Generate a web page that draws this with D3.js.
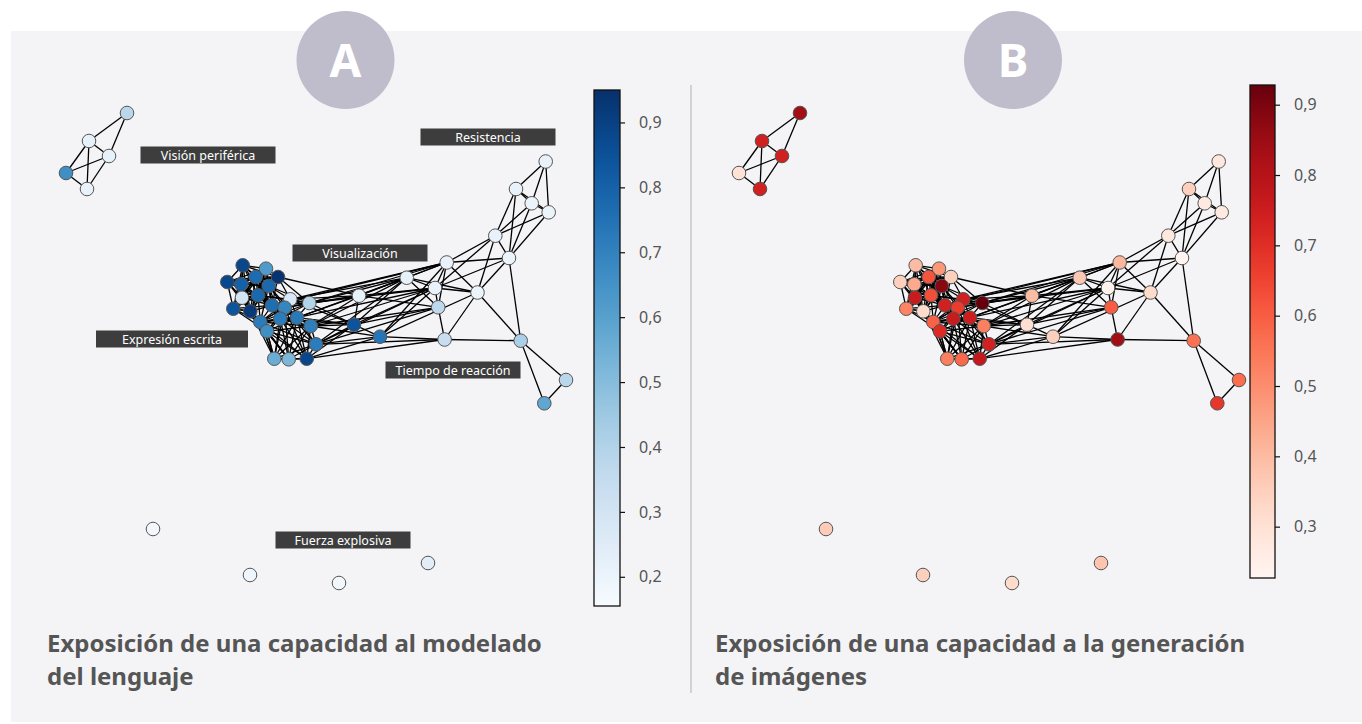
<!DOCTYPE html>
<html>
<head>
<meta charset="utf-8">
<script src="https://cdn.jsdelivr.net/npm/d3@7"></script>
<style>
  body { margin: 0; background: #fff; }
  svg { display: block; font-family: "Noto Sans", sans-serif; }
</style>
</head>
<body>
<svg id="chart" width="1362" height="724"></svg>
<script>
// posiciones del layout de la red (unidades del layout)
var nodeX = [127, 89, 109, 66, 87, 153, 250, 339, 428,
  242.7, 266, 227.3, 241.3, 255.7, 278, 268.7, 242, 258, 233.3, 250.3, 272, 290.3, 284.7, 309.3,
  260.3, 280.3, 297, 267, 310.7, 316, 274.3, 288.7, 306.7,
  359, 354, 380, 406.7, 446.7, 435, 438.2, 444.6, 477.5, 495.3, 509, 516, 531.7, 545.7, 548.7,
  520.7, 566, 544.3];
var nodeY = [113, 141, 156, 173, 189, 529, 575, 583, 563,
  265.3, 268.7, 282, 284.3, 277, 277, 286, 297.7, 295.3, 308.7, 311.3, 305.3, 299.3, 307.7, 303,
  322, 318.7, 317.7, 331.3, 326, 344.3, 358.7, 359.3, 358.7,
  295.7, 324.7, 336.7, 277.7, 262.5, 288, 307.3, 339.5, 292.5, 235.7, 258, 189, 203.3, 161.5, 212.3,
  340.7, 380, 403.3];

// exposicion al modelado del lenguaje (A)
var valA = [0.38, 0.22, 0.22, 0.66, 0.21, 0.18, 0.19, 0.18, 0.24,
  0.88, 0.62, 0.88, 0.80, 0.77, 0.94, 0.78, 0.30, 0.78, 0.84, 0.92, 0.76, 0.28, 0.69, 0.40,
  0.72, 0.72, 0.73, 0.66, 0.71, 0.72, 0.56, 0.52, 0.88,
  0.22, 0.84, 0.74, 0.22, 0.21, 0.21, 0.37, 0.34, 0.20, 0.21, 0.20, 0.21, 0.20, 0.21, 0.20,
  0.42, 0.38, 0.58];

// exposicion a la generacion de imagenes (B)
var valB = [0.84, 0.74, 0.74, 0.30, 0.74, 0.36, 0.35, 0.32, 0.38,
  0.40, 0.48, 0.35, 0.44, 0.62, 0.35, 0.88, 0.76, 0.63, 0.52, 0.32, 0.74, 0.74, 0.67, 0.93,
  0.59, 0.76, 0.75, 0.71, 0.53, 0.74, 0.53, 0.58, 0.77,
  0.40, 0.31, 0.35, 0.37, 0.41, 0.24, 0.60, 0.84, 0.32, 0.28, 0.23, 0.35, 0.27, 0.28, 0.27,
  0.56, 0.57, 0.68];

// grupos densos (todos conectados entre si)
var cliques = [
  [9, 10, 11, 12, 13, 14, 15, 16, 17, 18, 19, 20],
  [15, 17, 20, 21, 22, 23, 24, 25, 26],
  [22, 24, 25, 26, 27, 28, 29, 30, 31, 32],
  [19, 24, 27, 30, 31],
  [16, 18, 19, 24, 27]
];

var edges = [
  [0, 1], [0, 2], [1, 2], [1, 3], [1, 4], [3, 2], [3, 4], [2, 4],
  [23, 33], [23, 34], [23, 36], [23, 37], [21, 33], [21, 36], [26, 33], [26, 34], [28, 33], [28, 34],
  [28, 36], [28, 38], [29, 34], [29, 35], [29, 40], [29, 39], [32, 35], [32, 40], [22, 33], [20, 37],
  [21, 34], [23, 38], [26, 36], [28, 39], [14, 33], [14, 23], [25, 34], [26, 38], [29, 36], [28, 35],
  [14, 21], [21, 37], [32, 34], [29, 38],
  [33, 34], [33, 36], [33, 37], [33, 38], [33, 39], [34, 35], [34, 36], [34, 38], [34, 39], [35, 38],
  [35, 41], [35, 37], [36, 39], [36, 41], [37, 39], [38, 39], [39, 40], [35, 40],
  [46, 44], [46, 45], [46, 47], [44, 45], [44, 47], [45, 47], [44, 42], [44, 43], [45, 42], [45, 43],
  [47, 43], [47, 42], [42, 37], [42, 38], [42, 41], [42, 43], [43, 37], [43, 38], [43, 41], [43, 48],
  [37, 36], [37, 38], [37, 41], [36, 38], [38, 41], [41, 40], [41, 48], [40, 48], [48, 49], [48, 50],
  [49, 50]
];

var ticksA = [0.2, 0.3, 0.4, 0.5, 0.6, 0.7, 0.8, 0.9];
var ticksB = [0.3, 0.4, 0.5, 0.6, 0.7, 0.8, 0.9];
var domainA = [0.155, 0.95];
var domainB = [0.227, 0.928];

var etiquetas = ['Visión periférica', 'Resistencia', 'Visualización', 'Expresión escrita',
  'Tiempo de reacción', 'Fuerza explosiva'];
var etiquetaX = [208, 488, 360, 172, 453, 343];
var etiquetaY = [155, 137, 253, 339, 370, 540];

// armar lista de aristas
var allEdges = edges.slice();
cliques.forEach(function(c) {
  for (var i = 0; i < c.length; i++)
    for (var j = i + 1; j < c.length; j++) allEdges.push([c[i], c[j]]);
});

var svg = d3.select('#chart');

// fondo
svg.append('rect').attr('x', 11).attr('y', 31).attr('width', 1351).attr('height', 691).attr('fill', '#f4f4f7');
svg.append('line').attr('x1', 691).attr('x2', 691).attr('y1', 85).attr('y2', 693)
  .attr('stroke', '#b0b0b0').attr('stroke-width', 1);

var y = d3.scaleLinear().domain([0, 724]).range([0, 724]);

function drawPanel(offset, values, interp, domain, ticks, bar, letter, title, o) {
  var x = d3.scaleLinear().domain([0, 600]).range([offset, offset + 600]);
  var color = d3.scaleSequential(interp).domain(domain);
  var g = svg.append('g');

  g.append('g').selectAll('line')
    .data(allEdges)
    .enter().append('line')
    .attr('x1', function(d) { return x(nodeX[d[0]]); })
    .attr('y1', function(d) { return y(nodeY[d[0]]); })
    .attr('x2', function(d) { return x(nodeX[d[1]]); })
    .attr('y2', function(d) { return y(nodeY[d[1]]); })
    .attr('stroke', '#000')
    .attr('stroke-width', 1.3);

  g.append('g').selectAll('circle')
    .data(values)
    .enter().append('circle')
    .attr('cx', function(d, i) { return x(nodeX[i]); })
    .attr('cy', function(d, i) { return y(nodeY[i]); })
    .attr('r', 6.8)
    .attr('fill', function(d) { return color(d); })
    .attr('stroke', '#555')
    .attr('stroke-width', 1);

  // barra de color
  var gid = 'grad' + letter;
  var grad = svg.append('defs').append('linearGradient')
    .attr('id', gid).attr('x1', 0).attr('x2', 0).attr('y1', 1).attr('y2', 0);
  d3.range(0, 1.0001, 0.05).forEach(function(t) {
    grad.append('stop').attr('offset', t).attr('stop-color', interp(t));
  });
  var cy = d3.scaleLinear().domain(domain).range([bar.bottom, bar.top]);
  g.append('rect')
    .attr('x', bar.x).attr('y', bar.top)
    .attr('width', bar.w).attr('height', bar.bottom - bar.top)
    .attr('fill', 'url(#' + gid + ')')
    .attr('stroke', '#111').attr('stroke-width', 1.3);
  var axis = d3.axisRight(cy).tickValues(ticks).tickSize(5).tickPadding(14)
    .tickFormat(function(d) { return d3.format('.1f')(d).replace('.', ','); });
  var ax = g.append('g').attr('transform', 'translate(' + (bar.x + bar.w) + ',0)').call(axis);
  ax.select('.domain').remove();
  ax.selectAll('line').attr('stroke', '#111').attr('stroke-width', 1.2);
  ax.selectAll('text').attr('font-size', 16).attr('fill', '#555').attr('font-family', '"Noto Sans", sans-serif');

  // circulo con letra
  g.append('circle').attr('cx', o.circleX).attr('cy', 60).attr('r', 49).attr('fill', '#bfbccb');
  g.append('text').attr('x', o.circleX).attr('y', 77).attr('text-anchor', 'middle')
    .attr('font-size', 46).attr('font-weight', 'bold').attr('fill', '#fff').text(letter);

  // titulo
  var t = g.append('text').attr('x', o.titleX).attr('y', 652)
    .attr('font-size', 24).attr('font-weight', 'bold').attr('fill', '#555');
  title.forEach(function(line, i) {
    t.append('tspan').attr('x', o.titleX).attr('dy', i === 0 ? 0 : 33).text(line);
  });
  return x;
}

var xA = drawPanel(0, valA, d3.interpolateBlues, domainA, ticksA,
  {x: 594, w: 26, top: 90, bottom: 606}, 'A',
  ['Exposición de una capacidad al modelado', 'del lenguaje'],
  {circleX: 345.5, titleX: 47});
drawPanel(673, valB, d3.interpolateReds, domainB, ticksB,
  {x: 1250, w: 25, top: 85, bottom: 578}, 'B',
  ['Exposición de una capacidad a la generación', 'de imágenes'],
  {circleX: 1013, titleX: 715});

// etiquetas de capacidades (solo panel A)
var lab = svg.append('g').selectAll('g')
  .data(etiquetas)
  .enter().append('g')
  .attr('transform', function(d, i) { return 'translate(' + xA(etiquetaX[i]) + ',' + y(etiquetaY[i]) + ')'; });
lab.append('rect')
  .attr('x', function(d) { return d === 'Expresión escrita' ? -76 : -67.5; })
  .attr('y', -8.5)
  .attr('width', function(d) { return d === 'Expresión escrita' ? 152 : 135; })
  .attr('height', 17)
  .attr('fill', '#3d3d3d');
lab.append('text')
  .attr('text-anchor', 'middle').attr('y', 4.5)
  .attr('font-size', 12.5).attr('fill', '#fff')
  .text(function(d) { return d; });
</script>
</body>
</html>
